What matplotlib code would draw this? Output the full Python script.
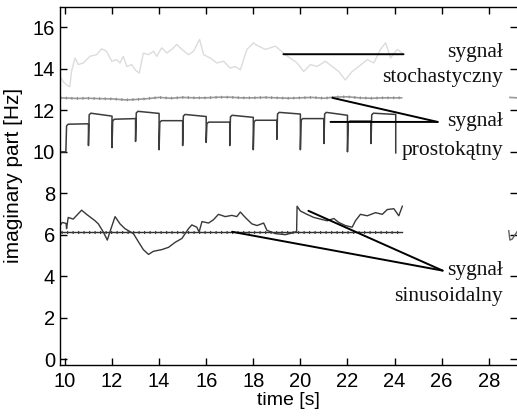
import matplotlib
matplotlib.use("Agg")
import matplotlib.pyplot as plt

# --- data ------------------------------------------------------------------
# stochastic signal (light grey, top)
stoch_t = [9.79, 9.93, 10.07, 10.21, 10.28, 10.43, 10.57, 10.78, 11.06, 11.35,
           11.56, 11.77, 11.99, 12.2, 12.34, 12.48, 12.63, 12.84, 12.98, 13.16,
           13.33, 13.55, 13.76, 13.9, 14.11, 14.33, 14.54, 14.75, 14.97, 15.25,
           15.46, 15.72, 15.89, 16.17, 16.45, 16.74, 17.02, 17.23, 17.45, 17.73,
           18.01, 18.09, 18.51, 18.94, 19.36, 19.86, 20.14, 20.43, 20.71, 21.06,
           21.35, 21.63, 21.91, 22.2, 22.48, 22.84, 23.12, 23.4, 23.62, 23.83,
           24.11, 24.33]
stoch_y = [13.62, 13.38, 13.22, 13.14, 13.87, 14.52, 14.2, 14.28, 14.6, 14.68,
           14.96, 14.84, 14.36, 14.44, 14.28, 14.6, 14.11, 14.2, 13.95, 13.79,
           14.76, 14.68, 14.84, 14.6, 15.01, 14.76, 14.93, 15.17, 14.93, 14.68,
           14.84, 15.41, 14.68, 14.52, 14.28, 14.36, 14.03, 14.11, 13.95, 14.93,
           15.25, 15.17, 14.93, 15.09, 14.68, 14.28, 13.87, 14.2, 14.11, 14.36,
           14.11, 13.87, 13.46, 13.87, 14.11, 14.44, 14.28, 14.93, 15.25, 14.52,
           14.93, 14.76]

# grey trace at ~12.6 Hz
grey_t = [9.8, 10.5, 11.0, 11.5, 12.0, 12.6, 13.0, 13.5, 14.0, 14.5, 15.0, 15.5,
          16.0, 16.5, 17.0, 17.5, 18.0, 18.5, 19.0, 19.5, 20.0, 20.5, 21.0, 21.5,
          22.0, 22.5, 23.0, 23.5, 24.3]
grey_y = [12.6, 12.57, 12.58, 12.56, 12.55, 12.5, 12.52, 12.56, 12.62, 12.58,
          12.62, 12.6, 12.6, 12.63, 12.63, 12.6, 12.6, 12.62, 12.6, 12.58, 12.6,
          12.62, 12.58, 12.64, 12.65, 12.6, 12.58, 12.6, 12.6]
grey_tail_t = [28.9, 29.2]
grey_tail_y = [12.62, 12.6]

# rectangular signal: edge times, spike minima, level at start / end of period
rect_start = (9.87, 10.0)
rect_edges = [10.04, 11.0, 12.0, 13.0, 14.0, 15.0, 16.0, 17.0, 18.0, 19.0,
              20.0, 21.0, 22.0, 23.0, 24.05]
rect_spike = [10.0, 10.3, 10.2, 10.5, 10.1, 10.3, 10.45, 10.3, 10.1, 10.6,
              10.1, 10.4, 10.0, 10.4, 9.95]
rect_lvl_a = [11.33, 11.86, 11.57, 11.95, 11.5, 11.8, 11.43, 11.76, 11.52, 11.9,
              11.6, 11.9, 11.48, 11.86]
rect_lvl_b = [11.35, 11.72, 11.6, 11.85, 11.5, 11.7, 11.43, 11.66, 11.52, 11.82,
              11.6, 11.76, 11.48, 11.8]

# sinusoidal signal: wandering estimate and flat reference
sin_t = [9.79, 9.89, 10.05, 10.07, 10.14, 10.35, 10.71, 10.92, 11.28, 11.42,
         11.63, 11.8, 11.91, 12.13, 12.34, 12.55, 12.91, 13.12, 13.33, 13.55,
         13.76, 14.11, 14.4, 14.68, 14.97, 15.25, 15.39, 15.6, 15.7, 15.82,
         16.1, 16.31, 16.52, 16.81, 17.09, 17.3, 17.45, 17.66, 17.94, 18.16,
         18.44, 18.58, 18.94, 19.36, 19.71, 19.84, 19.86, 20.0, 20.28, 20.57,
         20.85, 21.14, 21.42, 21.63, 21.91, 22.2, 22.34, 22.55, 22.84, 23.19,
         23.48, 23.69, 23.97, 24.18, 24.33]
sin_y = [6.45, 6.6, 6.55, 6.3, 6.84, 6.76, 7.19, 6.99, 6.68, 6.53,
         6.14, 5.75, 6.14, 6.88, 6.53, 6.3, 6.06, 5.67, 5.29, 5.06,
         5.21, 5.29, 5.4, 5.64, 5.83, 6.3, 6.48, 6.37, 6.14, 6.64,
         6.57, 6.73, 6.99, 6.88, 6.94, 6.88, 7.1, 6.84, 6.53, 6.45,
         6.57, 6.22, 6.06, 6.01, 6.11, 6.17, 7.38, 7.15, 6.99, 6.84,
         6.76, 6.68, 6.79, 6.6, 6.45, 6.37, 6.68, 6.99, 6.92, 7.07,
         6.99, 7.22, 7.26, 6.92, 7.38]
sin_tail_t = [28.85, 28.9, 29.0, 29.2]
sin_tail_y = [6.2, 5.75, 5.8, 6.15]
flat_t = [9.85, 24.3]
flat_y = [6.12, 6.12]

x_ticks = [10, 12, 14, 16, 18, 20, 22, 24, 26, 28]
y_ticks = [0, 2, 4, 6, 8, 10, 12, 14, 16]

# annotations: (label lines, tip point, target points, text rows)
notes = [
    (["sygnał", "stochastyczny"], (24.38, 14.7), [(19.28, 14.7)], (14.8, 13.6)),
    (["sygnał", "prostokątny"], (25.83, 11.44), [(21.28, 11.44), (21.36, 12.6)], (11.44, 10.05)),
    (["sygnał", "sinusoidalny"], (26.04, 4.28), [(17.1, 6.15), (20.34, 7.16)], (4.28, 3.03)),
]


def rect_path():
    xs, ys = [rect_start[0], rect_edges[0]], [rect_start[1], rect_start[1]]
    for k, t in enumerate(rect_edges):
        xs.append(t)
        ys.append(rect_spike[k])
        if k < len(rect_lvl_a):
            xs += [t + 0.03, t + 0.1, rect_edges[k + 1]]
            ys += [rect_lvl_a[k] - 0.08, rect_lvl_a[k], rect_lvl_b[k]]
    return xs, ys


plt.rcParams["font.family"] = ["Liberation Sans", "DejaVu Sans"]
fig = plt.figure(figsize=(5.17, 4.17), dpi=100)
ax = fig.add_axes([0.116, 0.125, 0.884, 0.858])

ax.plot(stoch_t, stoch_y, color="#dcdcdc", lw=1.0)
ax.plot(grey_t, grey_y, color="#9a9a9a", lw=1.2)
ax.plot(grey_t, grey_y, color="#8a8a8a", lw=2.0, ls=(0, (0.4, 1.6)))
ax.plot(grey_tail_t, grey_tail_y, color="#9a9a9a", lw=1.2)
rx, ry = rect_path()
ax.plot(rx, ry, color="#3c3c3c", lw=1.1)
ax.plot(flat_t, flat_y, color="#303030", lw=1.0)
ax.plot(flat_t, flat_y, color="#404040", lw=2.2, ls=(0, (0.4, 1.4)))
ax.plot(sin_t, sin_y, color="#383838", lw=1.0)
ax.plot(sin_tail_t, sin_tail_y, color="#606060", lw=1.0)

serif = ["Liberation Serif", "DejaVu Serif"]
for lines, tip, targets, text_y in notes:
    for tgt in targets:
        ax.annotate("", xy=tgt, xytext=tip,
                    arrowprops=dict(arrowstyle="-", lw=1.4, color="black",
                                    shrinkA=0, shrinkB=0))
    for label, y in zip(lines, text_y):
        ax.text(28.6, y, label, ha="right", va="center", family=serif,
                fontsize=15.5, color="#111111")

ax.set_xlim(9.79, 29.2)
ax.set_ylim(-0.26, 16.97)
ax.set_xticks(x_ticks)
ax.set_yticks(y_ticks)
ax.tick_params(direction="in", length=5, width=1, labelsize=14.5,
               top=True, right=True)
ax.tick_params(axis="x", pad=5)
ax.spines["right"].set_visible(False)
for side in ("left", "bottom", "top"):
    ax.spines[side].set_linewidth(1.0)
ax.set_xlabel("time [s]", fontsize=14, labelpad=1)
ax.set_ylabel("imaginary part [Hz]", fontsize=15, labelpad=2)
ax.yaxis.set_label_coords(-0.08, 0.53)

fig.savefig("out.png", dpi=100)
